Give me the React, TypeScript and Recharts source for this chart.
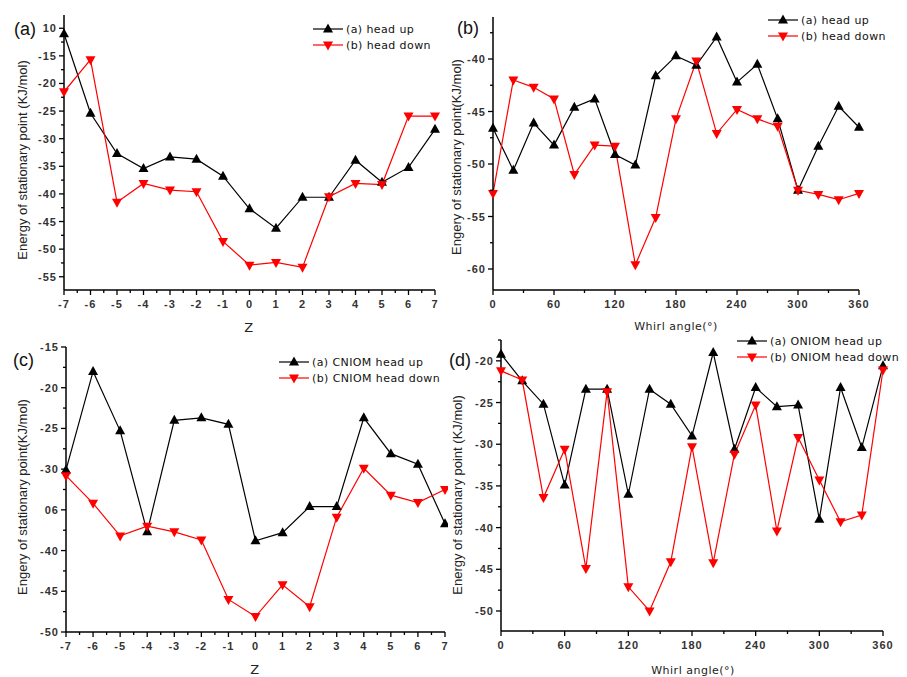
import { Legend, Line, LineChart, XAxis, YAxis } from 'recharts';

// z positions for panels (a) and (c)
const zSteps = [-7, -6, -5, -4, -3, -2, -1, 0, 1, 2, 3, 4, 5, 6, 7];
// whirl angles for panels (b) and (d)
const whirlAngles = [0, 20, 40, 60, 80, 100, 120, 140, 160, 180, 200, 220, 240, 260, 280, 300, 320, 340, 360];

const aHeadUp = [-11.0, -25.4, -32.7, -35.4, -33.3, -33.7, -36.8, -42.7, -46.2, -40.6, -40.6, -33.9, -37.9, -35.2, -28.3];
const aHeadDown = [-21.5, -15.7, -41.5, -38.1, -39.3, -39.6, -48.6, -52.9, -52.4, -53.3, -40.5, -38.1, -38.3, -25.9, -25.9];

const bHeadUp = [-46.6, -50.6, -46.1, -48.2, -44.6, -43.8, -49.1, -50.1, -41.6, -39.7, -40.6, -37.9, -42.2, -40.5, -45.7, -52.5, -48.3, -44.5, -46.5];
const bHeadDown = [-52.8, -42.0, -42.7, -43.8, -51.0, -48.2, -48.3, -59.6, -55.1, -45.7, -40.2, -47.1, -44.8, -45.7, -46.4, -52.5, -52.9, -53.4, -52.8];

const cHeadUp = [-30.1, -18.0, -25.3, -37.7, -24.0, -23.7, -24.5, -38.8, -37.8, -34.6, -34.6, -23.7, -28.1, -29.4, -36.7];
const cHeadDown = [-30.8, -34.2, -38.2, -37.0, -37.7, -38.7, -46.0, -48.1, -44.2, -46.9, -35.9, -29.9, -33.2, -34.1, -32.5];

const dHeadUp = [-19.2, -22.4, -25.2, -34.9, -23.4, -23.4, -36.0, -23.4, -25.2, -29.0, -19.0, -30.6, -23.2, -25.5, -25.3, -39.0, -23.2, -30.4, -20.6];
const dHeadDown = [-21.2, -22.3, -36.4, -30.6, -44.9, -23.7, -47.1, -50.0, -44.1, -30.3, -44.2, -31.2, -25.3, -40.4, -29.2, -34.3, -39.3, -38.5, -21.1];

const zTicks = [-7, -6, -5, -4, -3, -2, -1, 0, 1, 2, 3, 4, 5, 6, 7];
const zTickLabels = ['-7', '-6', '-5', '-4', '-3', '-2', '-1', '0', '1', '2', '3', '4', '5', '6', '7'];
const angleTicks = [0, 60, 120, 180, 240, 300, 360];
const angleTickLabels = ['0', '60', '120', '180', '240', '300', '360'];

const aYTicks = [-55, -50, -45, -40, -35, -30, -25, -20, -15, -10];
const aYTickLabels = ['-55', '-50', '-45', '-40', '-35', '-30', '-25', '-20', '-15', '10'];
const bYTicks = [-60, -55, -50, -45, -40];
const bYTickLabels = ['-60', '-55', '-50', '-45', '-40'];
const cYTicks = [-50, -45, -40, -35, -30, -25, -20, -15];
const cYTickLabels = ['-50', '-45', '-40', '06', '-30', '-25', '-20', '-15'];
const dYTicks = [-50, -45, -40, -35, -30, -25, -20];
const dYTickLabels = ['-50', '-45', '-40', '-35', '-30', '-25', '-20'];

const tickFont = { fontFamily: '"Liberation Sans", Arial, sans-serif', fontSize: 11, fontWeight: 'bold' as const, fill: '#333', letterSpacing: 1 };
const RED = '#ff0000';

function withMinors(majors: number[], step: number, domain: [number, number]) {
  const all = new Set<number>(majors);
  majors.forEach((m) => {
    [m - step / 2, m + step / 2].forEach((v) => {
      if (v >= domain[0] && v <= domain[1]) all.add(v);
    });
  });
  return Array.from(all).sort((p, q) => p - q);
}

function tri(cx: number, cy: number, up: boolean) {
  return up
    ? `M${cx},${cy - 5.5}L${cx + 5},${cy + 3.5}L${cx - 5},${cy + 3.5}Z`
    : `M${cx},${cy + 5.5}L${cx + 5},${cy - 3.5}L${cx - 5},${cy - 3.5}Z`;
}

const makeDot = (color: string, up: boolean) => (p: any) => (
  <path key={`${up ? 'u' : 'd'}${p.index}`} d={tri(p.cx, p.cy, up)} fill={color} />
);

const makeXTick = (majors: number[], labels: string[]) => (p: any) => {
  const i = majors.indexOf(p.payload.value);
  return (
    <g>
      <line x1={p.x} x2={p.x} y1={p.y} y2={p.y + (i >= 0 ? 5 : 3)} stroke="#000" strokeWidth={1.3} />
      {i >= 0 && (
        <text x={p.x} y={p.y + 18} textAnchor="middle" style={tickFont}>
          {labels[i]}
        </text>
      )}
    </g>
  );
};

const makeYTick = (majors: number[], labels: string[]) => (p: any) => {
  const i = majors.indexOf(p.payload.value);
  return (
    <g>
      <line x1={p.x - (i >= 0 ? 5 : 3)} x2={p.x} y1={p.y} y2={p.y} stroke="#000" strokeWidth={1.3} />
      {i >= 0 && (
        <text x={p.x - 7} y={p.y + 4} textAnchor="end" style={tickFont}>
          {labels[i]}
        </text>
      )}
    </g>
  );
};

function TriLegend({ payload }: any) {
  return (
    <div style={{ fontFamily: '"DejaVu Sans", sans-serif', fontSize: 11, color: '#111', whiteSpace: 'nowrap', letterSpacing: 0.4 }}>
      {(payload || []).map((e: any, i: number) => (
        <div key={i} style={{ display: 'flex', alignItems: 'center', height: 16 }}>
          <svg width={30} height={16} style={{ display: 'block' }}>
            <line x1={0} y1={8} x2={30} y2={8} stroke={e.color} strokeWidth={1.2} />
            <path d={tri(15, 8, e.dataKey === 'up')} fill={e.color} />
          </svg>
          <span style={{ marginLeft: 3 }}>{e.value}</span>
        </div>
      ))}
    </div>
  );
}

interface PanelProps {
  left: number;
  top: number;
  width: number;
  height: number;
  margin: { top: number; right: number };
  yAxisWidth: number;
  xAxisHeight: number;
  xs: number[];
  up: number[];
  down: number[];
  xDomain: [number, number];
  xMajors: number[];
  xLabels: string[];
  xStep: number;
  yDomain: [number, number];
  yMajors: number[];
  yLabels: string[];
  yStep: number;
  upName: string;
  downName: string;
  legendAt: { left: number; top: number };
  letter: string;
  letterAt: [number, number];
  yTitle: string;
  yTitleAt: [number, number];
  xTitle: string;
  xTitleAt: [number, number];
  xTitleSize: number;
}

function Panel(p: PanelProps) {
  const data = p.xs.map((x, i) => ({ x, up: p.up[i], down: p.down[i] }));
  const titles = () => (
    <g>
      <text x={p.letterAt[0]} y={p.letterAt[1]} style={{ fontFamily: '"Liberation Sans", Arial, sans-serif', fontSize: 18, fill: '#111' }}>
        {p.letter}
      </text>
      <text
        x={p.yTitleAt[0]}
        y={p.yTitleAt[1]}
        transform={`rotate(-90 ${p.yTitleAt[0]} ${p.yTitleAt[1]})`}
        textAnchor="middle"
        dominantBaseline="central"
        style={{ fontFamily: '"Liberation Sans", Arial, sans-serif', fontSize: 13, fill: '#222' }}
      >
        {p.yTitle}
      </text>
      <text
        x={p.xTitleAt[0]}
        y={p.xTitleAt[1]}
        textAnchor="middle"
        dominantBaseline="central"
        style={{ fontFamily: '"DejaVu Sans", sans-serif', fontSize: p.xTitleSize, fill: '#222', letterSpacing: 0.5 }}
      >
        {p.xTitle}
      </text>
    </g>
  );
  return (
    <div style={{ position: 'absolute', left: p.left, top: p.top, width: p.width, height: p.height }}>
      <LineChart width={p.width} height={p.height} data={data} margin={{ top: p.margin.top, right: p.margin.right, left: 0, bottom: 0 }}>
        <XAxis
          dataKey="x"
          type="number"
          domain={p.xDomain}
          ticks={withMinors(p.xMajors, p.xStep, p.xDomain)}
          interval={0}
          height={p.xAxisHeight}
          tickSize={0}
          tickMargin={0}
          tickLine={false}
          axisLine={{ stroke: '#000', strokeWidth: 1.5 }}
          tick={makeXTick(p.xMajors, p.xLabels)}
        />
        <YAxis
          type="number"
          domain={p.yDomain}
          ticks={withMinors(p.yMajors, p.yStep, p.yDomain)}
          interval={0}
          width={p.yAxisWidth}
          tickSize={0}
          tickMargin={0}
          tickLine={false}
          allowDataOverflow
          axisLine={{ stroke: '#000', strokeWidth: 1.5 }}
          tick={makeYTick(p.yMajors, p.yLabels)}
          label={{ content: titles }}
        />
        <Legend
          content={<TriLegend />}
          layout="vertical"
          align="center"
          verticalAlign="middle"
          wrapperStyle={{ left: p.legendAt.left, top: p.legendAt.top, width: 'auto', height: 'auto' }}
        />
        <Line
          dataKey="up"
          name={p.upName}
          stroke="#000"
          strokeWidth={1.2}
          dot={makeDot('#000', true)}
          activeDot={false}
          isAnimationActive={false}
        />
        <Line
          dataKey="down"
          name={p.downName}
          stroke={RED}
          strokeWidth={1.2}
          dot={makeDot(RED, false)}
          activeDot={false}
          isAnimationActive={false}
        />
      </LineChart>
    </div>
  );
}

export default function App() {
  return (
    <div style={{ position: 'absolute', left: 0, top: 0, width: 907, height: 677, background: '#fff', overflow: 'hidden' }}>
      <Panel
        left={0} top={0} width={446} height={335}
        margin={{ top: 15, right: 11 }} yAxisWidth={64} xAxisHeight={45}
        xs={zSteps} up={aHeadUp} down={aHeadDown}
        xDomain={[-7, 7]} xMajors={zTicks} xLabels={zTickLabels} xStep={1}
        yDomain={[-57.4, -7.6]} yMajors={aYTicks} yLabels={aYTickLabels} yStep={5}
        upName="(a) head up" downName="(b) head down"
        legendAt={{ left: 313, top: 21 }}
        letter="(a)" letterAt={[14, 35]}
        yTitle="Energy of stationary point (KJ/mol)" yTitleAt={[22, 160]}
        xTitle="Z" xTitleAt={[249, 327]} xTitleSize={13}
      />
      <Panel
        left={446} top={0} width={461} height={335}
        margin={{ top: 17, right: 48 }} yAxisWidth={47} xAxisHeight={45}
        xs={whirlAngles} up={bHeadUp} down={bHeadDown}
        xDomain={[0, 360]} xMajors={angleTicks} xLabels={angleTickLabels} xStep={60}
        yDomain={[-62, -36]} yMajors={bYTicks} yLabels={bYTickLabels} yStep={5}
        upName="(a) head up" downName="(b) head down"
        legendAt={{ left: 322, top: 12 }}
        letter="(b)" letterAt={[11, 34]}
        yTitle="Engery of stationary point(KJ/mol)" yTitleAt={[10, 157]}
        xTitle="Whirl angle(°)" xTitleAt={[230, 326]} xTitleSize={11}
      />
      <Panel
        left={0} top={335} width={448} height={342}
        margin={{ top: 12, right: 3 }} yAxisWidth={66} xAxisHeight={45}
        xs={zSteps} up={cHeadUp} down={cHeadDown}
        xDomain={[-7, 7]} xMajors={zTicks} xLabels={zTickLabels} xStep={1}
        yDomain={[-50, -15]} yMajors={cYTicks} yLabels={cYTickLabels} yStep={5}
        upName="(a) CNIOM head up" downName="(b) CNIOM head down"
        legendAt={{ left: 279, top: 19 }}
        letter="(c)" letterAt={[13, 31]}
        yTitle="Engery of stationary point(KJ/mol)" yTitleAt={[22, 162]}
        xTitle="Z" xTitleAt={[255, 334]} xTitleSize={13}
      />
      <Panel
        left={448} top={335} width={459} height={342}
        margin={{ top: 5, right: 24 }} yAxisWidth={53} xAxisHeight={46}
        xs={whirlAngles} up={dHeadUp} down={dHeadDown}
        xDomain={[0, 360]} xMajors={angleTicks} xLabels={angleTickLabels} xStep={60}
        yDomain={[-52.4, -17.5]} yMajors={dYTicks} yLabels={dYTickLabels} yStep={5}
        upName="(a) ONIOM head up" downName="(b) ONIOM head down"
        legendAt={{ left: 289, top: -2 }}
        letter="(d)" letterAt={[1, 31]}
        yTitle="Energy of stationary point (KJ/mol)" yTitleAt={[9, 160]}
        xTitle="Whirl angle(°)" xTitleAt={[245, 335]} xTitleSize={11}
      />
    </div>
  );
}
